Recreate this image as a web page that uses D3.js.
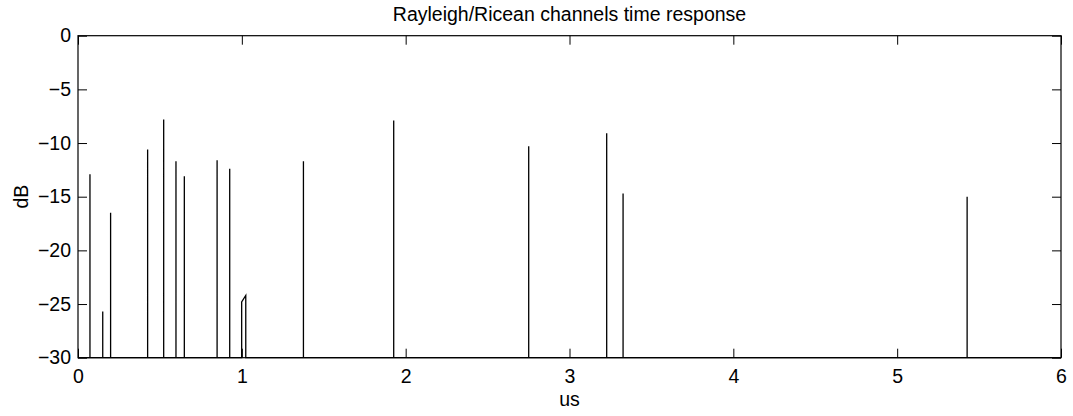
<!DOCTYPE html>
<html>
<head>
<meta charset="utf-8">
<script src="https://cdn.jsdelivr.net/npm/d3@7"></script>
<style>
  html, body { margin: 0; padding: 0; background: #fff; }
  svg { display: block; }
  text { font-family: "Liberation Sans", Arial, Helvetica, sans-serif; fill: #000; }
</style>
</head>
<body>
<svg id="chart" width="1073" height="416"></svg>
<script>
// Tap delays (us) and tap powers (dB) of the channel impulse response
const tapDelays = [0.073, 0.151, 0.199, 0.425, 0.523, 0.598, 0.649, 0.849, 0.926,
                   0.999, 1.024, 1.376, 1.927, 2.751, 3.227, 3.327, 5.427];
const tapPowers = [-12.9, -25.7, -16.5, -10.6, -7.8, -11.7, -13.1, -11.6, -12.4,
                   -24.8, -24.2, -11.7, -7.9, -10.3, -9.1, -14.7, -15.0];

const xTicks = [0, 1, 2, 3, 4, 5, 6];
const yTicks = [0, -5, -10, -15, -20, -25, -30];
const xDomain = [0, 6];
const yDomain = [-30, 0];
const floorDb = -30;
const adjacentGap = 0.03; // taps closer than this share one sample segment

const titleText = "Rayleigh/Ricean channels time response";
const xLabelText = "us";
const yLabelText = "dB";

const margin = { left: 78, right: 12, top: 35.7, bottom: 58.3 };
const W = 1073, H = 416;
const innerW = W - margin.left - margin.right;
const innerH = H - margin.top - margin.bottom;

const svg = d3.select("#chart");
const g = svg.append("g").attr("transform", `translate(${margin.left},${margin.top})`);

const x = d3.scaleLinear().domain(xDomain).range([0, innerW]);
const y = d3.scaleLinear().domain(yDomain).range([innerH, 0]);

// Build the response trace: floor level with a spike at every tap
const pts = [[xDomain[0], floorDb]];
tapDelays.forEach((t, i) => {
  const joined = i > 0 && (t - tapDelays[i - 1]) < adjacentGap;
  if (joined) {
    pts.pop(); // stay up and join to the previous tap directly
    pts.push([t, tapPowers[i]]);
    pts.push([t, floorDb]);
  } else {
    pts.push([t, floorDb]);
    pts.push([t, tapPowers[i]]);
    pts.push([t, floorDb]);
  }
});
pts.push([xDomain[1], floorDb]);

const line = d3.line().x(d => x(d[0])).y(d => y(d[1]));
g.append("path")
  .datum(pts)
  .attr("d", line)
  .attr("fill", "none")
  .attr("stroke", "#000")
  .attr("stroke-width", 1.3);

// Axes: ticks inward on all four sides, box drawn around the plot
const tickLen = 9;
const fontSize = 19.5;

const axB = d3.axisBottom(x).tickValues(xTicks).tickFormat(d3.format("d"))
  .tickSizeInner(-tickLen).tickSizeOuter(0).tickPadding(11);
const axT = d3.axisTop(x).tickValues(xTicks).tickFormat("")
  .tickSizeInner(-tickLen).tickSizeOuter(0);
const minusFmt = d => (d < 0 ? "\u2212" + Math.abs(d) : String(d));
const axL = d3.axisLeft(y).tickValues(yTicks).tickFormat(minusFmt)
  .tickSizeInner(-tickLen).tickSizeOuter(0).tickPadding(7);
const axR = d3.axisRight(y).tickValues(yTicks).tickFormat("")
  .tickSizeInner(-tickLen).tickSizeOuter(0);

function styleAxis(sel) {
  sel.select(".domain").remove();
  sel.selectAll("line").attr("stroke", "#000").attr("stroke-width", 1);
  sel.selectAll("text").attr("font-size", fontSize)
    .attr("font-family", '"Liberation Sans", Arial, sans-serif').attr("fill", "#000");
}

g.append("g").attr("transform", `translate(0,${innerH})`).call(axB).call(styleAxis);
g.append("g").call(axT).call(styleAxis);
g.append("g").call(axL).call(styleAxis);
g.append("g").attr("transform", `translate(${innerW},0)`).call(axR).call(styleAxis);

g.append("rect")
  .attr("x", 0).attr("y", 0).attr("width", innerW).attr("height", innerH)
  .attr("fill", "none").attr("stroke", "#000").attr("stroke-width", 1.2);

// Title and axis labels
svg.append("text")
  .attr("x", margin.left + innerW / 2).attr("y", 20.7)
  .attr("text-anchor", "middle").attr("font-size", fontSize)
  .text(titleText);

svg.append("text")
  .attr("x", margin.left + innerW / 2).attr("y", 406)
  .attr("text-anchor", "middle").attr("font-size", fontSize)
  .text(xLabelText);

svg.append("text")
  .attr("transform", `translate(28,${margin.top + innerH / 2}) rotate(-90)`)
  .attr("text-anchor", "middle").attr("font-size", fontSize)
  .text(yLabelText);
</script>
</body>
</html>
